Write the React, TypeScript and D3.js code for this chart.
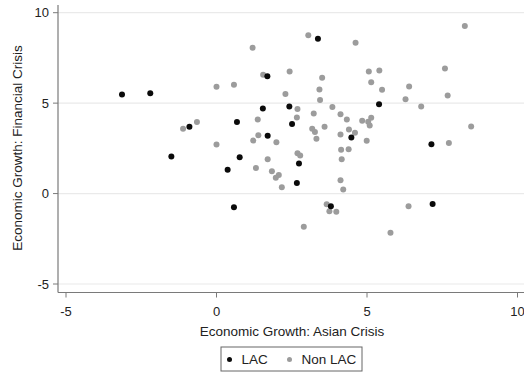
import React from "react";
import * as d3 from "d3";

// Growth during the Asian crisis (x) vs. the financial crisis (y)
const lacAsian = [-3.14, -2.2, -0.9, -1.5, 0.37, 0.58, 0.68, 0.77, 1.54, 1.69, 1.7, 2.42, 2.51, 2.67, 2.74, 3.37, 3.8, 4.48, 5.4, 7.14, 7.18];
const lacFinancial = [5.48, 5.55, 3.69, 2.05, 1.31, -0.76, 3.95, 2.01, 4.7, 6.49, 3.19, 4.82, 3.84, 0.59, 1.66, 8.56, -0.7, 3.1, 4.94, 2.73, -0.57];

const nonLacAsian = [
  -1.11, -0.65, 0.0, 0.0, 0.58, 1.2, 1.55, 1.37, 1.39, 1.22, 1.31, 1.7, 1.99, 1.84, 2.07, 1.97, 2.17, 2.29,
  2.43, 2.69, 2.67, 2.69, 2.78, 2.9, 3.05, 3.23, 3.18, 3.27, 3.32, 3.42, 3.44, 3.51, 3.59, 3.85, 3.66, 3.75,
  3.98, 4.12, 4.12, 4.14, 4.16, 4.12, 4.21, 4.33, 4.4, 4.39, 4.6, 4.62, 4.84, 4.99, 5.04, 5.09, 5.14, 5.06,
  5.14, 5.41, 5.5, 5.78, 6.28, 6.4, 6.38, 6.8, 7.59, 7.68, 7.72, 8.25, 8.46,
];
const nonLacFinancial = [
  3.58, 3.95, 5.9, 2.71, 6.01, 8.06, 6.57, 4.1, 3.23, 2.93, 1.42, 1.9, 2.84, 1.24, 1.02, 0.87, 0.35, 5.5,
  6.75, 4.67, 4.21, 2.23, 2.1, -1.83, 8.76, 4.43, 3.58, 3.41, 3.03, 5.76, 5.17, 6.4, 3.69, 4.78, -0.59, -0.98,
  -1.0, 4.39, 3.27, 2.42, 1.9, 0.74, 0.22, 4.1, 3.54, 2.45, 3.36, 8.34, 4.02, 2.92, 3.97, 3.76, 4.19, 6.75,
  6.16, 6.81, 5.74, -2.16, 5.22, 5.92, -0.7, 4.82, 6.92, 5.42, 2.8, 9.26, 3.71,
];

const xTicks = [-5, 0, 5, 10];
const yTicks = [-5, 0, 5, 10];
const groups = ["LAC", "Non LAC"];

const W = 524;
const H = 372;
const FONT = "'Liberation Sans', Arial, sans-serif";

export default function App() {
  const x = d3.scaleLinear().domain([-5, 10]).range([66, 517.5]);
  const y = d3.scaleLinear().domain([-5, 10]).range([284, 12.7]);
  const axisX = 58;
  const axisY = 292.5;
  const black = "#0a0a0a";
  const gray = "#9c9c9c";
  const axisColor = "#7a7a7a";

  const lac = lacAsian.map((v, i) => [v, lacFinancial[i]]);
  const nonLac = nonLacAsian.map((v, i) => [v, nonLacFinancial[i]]);

  return (
    <svg width={W} height={H} style={{ position: "absolute", left: 0, top: 0, background: "#fff" }} fontFamily={FONT}>
      <rect width={W} height={H} fill="#fff" />
      {/* horizontal grid */}
      {yTicks.map((t) => (
        <line key={"g" + t} x1={axisX} x2={W} y1={y(t)} y2={y(t)} stroke="#eaeaea" strokeWidth={1.2} />
      ))}
      {/* axes */}
      <line x1={axisX} x2={axisX} y1={5} y2={axisY} stroke={axisColor} strokeWidth={1.2} />
      <line x1={axisX} x2={W} y1={axisY} y2={axisY} stroke={axisColor} strokeWidth={1.2} />
      {yTicks.map((t) => (
        <g key={"y" + t}>
          <line x1={axisX - 5} x2={axisX} y1={y(t)} y2={y(t)} stroke={axisColor} strokeWidth={1} />
          <text x={axisX - 9} y={y(t)} dy="0.35em" textAnchor="end" fontSize={13} fill="#222">
            {t}
          </text>
        </g>
      ))}
      {xTicks.map((t) => (
        <g key={"x" + t}>
          <line x1={x(t)} x2={x(t)} y1={axisY} y2={axisY + 5} stroke={axisColor} strokeWidth={1} />
          <text x={x(t)} y={316} textAnchor="middle" fontSize={13} fill="#222">
            {t}
          </text>
        </g>
      ))}
      {/* axis titles */}
      <text x={292} y={336} textAnchor="middle" fontSize={13.5} fill="#222">
        Economic Growth: Asian Crisis
      </text>
      <text transform={`translate(22,148) rotate(-90)`} textAnchor="middle" fontSize={13.5} fill="#222">
        Economic Growth: Financial Crisis
      </text>
      {/* points */}
      {nonLac.map((d, i) => (
        <circle key={"n" + i} cx={x(d[0])} cy={y(d[1])} r={3} fill={gray} />
      ))}
      {lac.map((d, i) => (
        <circle key={"l" + i} cx={x(d[0])} cy={y(d[1])} r={3} fill={black} />
      ))}
      {/* legend */}
      <rect x={221} y={347} width={141} height={24} fill="#fff" stroke="#666" strokeWidth={1} />
      <circle cx={229.5} cy={359.5} r={2.5} fill={black} />
      <text x={241.5} y={364.3} fontSize={13.5} fill="#222">{groups[0]}</text>
      <circle cx={289.5} cy={359.5} r={2.5} fill={gray} />
      <text x={301.5} y={364.3} fontSize={13.5} fill="#222">{groups[1]}</text>
    </svg>
  );
}
